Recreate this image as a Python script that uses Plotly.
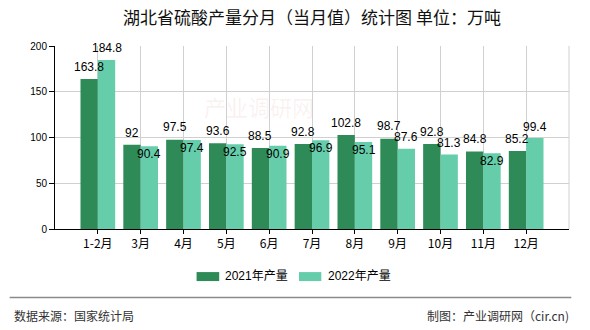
import plotly.graph_objects as go

categories = ["1-2月", "3月", "4月", "5月", "6月", "7月", "8月", "9月", "10月", "11月", "12月"]
values_2021 = [163.8, 92, 97.5, 93.6, 88.5, 92.8, 102.8, 98.7, 92.8, 84.8, 85.2]
values_2022 = [184.8, 90.4, 97.4, 92.5, 90.9, 96.9, 95.1, 87.6, 81.3, 82.9, 99.4]
label_pos_2022 = ["out", "in", "in", "in", "in", "in", "in", "out", "out", "in", "out"]
series_names = ["2021年产量", "2022年产量"]
y_ticks = [0, 50, 100, 150, 200]

title_text = "湖北省硫酸产量分月（当月值）统计图 单位：万吨"
source_text = "数据来源：国家统计局"
maker_text = "制图：产业调研网（cir.cn)"

C1 = "#2E8B57"
C2 = "#66CDAA"

W, H = 590, 330
L, R, T, B = 55.3, 568.7, 46.0, 229.5  # plot area in px


def px(x):
    return (x - L) / (R - L)


def py(y):
    return (B - y) / (B - T)


fig = go.Figure()
fig.add_trace(go.Bar(x=categories, y=values_2021, name=series_names[0],
                     marker=dict(color=C1, line=dict(width=0)), showlegend=False,
                     hoverinfo="x+y"))
fig.add_trace(go.Bar(x=categories, y=values_2022, name=series_names[1],
                     marker=dict(color=C2, line=dict(width=0)), showlegend=False,
                     hoverinfo="x+y"))

label_font = dict(family="Liberation Sans, Arial, sans-serif", size=12, color="#000")
annotations = []
for c, v in zip(categories, values_2021):
    annotations.append(dict(x=c, y=v, xref="x", yref="y", text=f"{v:g}",
                            showarrow=False, xshift=-8.7, yshift=12.3,
                            yanchor="middle", xanchor="center", font=label_font))
for c, v, p in zip(categories, values_2022, label_pos_2022):
    annotations.append(dict(x=c, y=v, xref="x", yref="y", text=f"{v:g}",
                            showarrow=False, xshift=8.7,
                            yshift=(11.5 if p == "out" else -8.0),
                            yanchor="middle", xanchor="center", font=label_font))

cjk = "Noto Sans CJK SC, sans-serif"

# watermark
annotations.append(dict(x=px(259), y=py(106), xref="paper", yref="paper",
                        xanchor="center", yanchor="middle",
                        text="产业调研网", showarrow=False,
                        font=dict(family=cjk, size=22, color="rgba(220,140,140,0.12)")))

# legend (custom)
shapes = []
leg = [(196.7, 219.3, 223.3, C1, series_names[0]), (299.0, 321.3, 326.0, C2, series_names[1])]
for x0, x1, tx, col, name in leg:
    shapes.append(dict(type="rect", xref="paper", yref="paper",
                       x0=px(x0), x1=px(x1), y0=py(281.7), y1=py(272.7),
                       fillcolor=col, line=dict(width=0)))
    annotations.append(dict(x=px(tx), y=py(277), xref="paper", yref="paper",
                            text=name, showarrow=False, xanchor="left", yanchor="middle",
                            font=dict(family="Liberation Sans, " + cjk, size=12, color="#000")))

# right border grid line
shapes.append(dict(type="line", xref="paper", yref="paper", x0=1, x1=1, y0=0, y1=1,
                   line=dict(color="#d0d0d0", width=1)))
# separator line
shapes.append(dict(type="line", xref="paper", yref="paper", x0=px(10), x1=px(571),
                   y0=py(298.3), y1=py(298.3), line=dict(color="#8a8a8a", width=1.5)))

# footer
annotations.append(dict(x=px(12), y=py(316), xref="paper", yref="paper", text=source_text,
                        showarrow=False, xanchor="left", yanchor="middle",
                        font=dict(family=cjk, size=12, color="#333")))
annotations.append(dict(x=px(571), y=py(316), xref="paper", yref="paper", text=maker_text,
                        showarrow=False, xanchor="right", yanchor="middle",
                        font=dict(family=cjk, size=12, color="#333")))

fig.update_layout(
    width=W, height=H,
    margin=dict(l=L, r=W - R, t=T, b=H - B, pad=0),
    paper_bgcolor="white", plot_bgcolor="white",
    barmode="group", bargap=0.19, bargroupgap=0,
    title=dict(text=title_text, x=0.5, xref="paper", xanchor="center",
               y=1 - 18 / H, yref="container", yanchor="middle",
               font=dict(family=cjk, size=17, color="#111")),
    xaxis=dict(type="category", range=[-1, len(categories)],
               showgrid=True, gridcolor="#d0d0d0", gridwidth=1,
               showline=True, linecolor="#000", linewidth=1,
               ticks="outside", ticklen=4, tickcolor="#000",
               tickfont=dict(family=cjk, size=12, color="#000"),
               fixedrange=True),
    yaxis=dict(range=[0, 200], tickvals=y_ticks, ticktext=[str(t) for t in y_ticks],
               showgrid=True, gridcolor="#d0d0d0", gridwidth=1,
               showline=True, linecolor="#000", linewidth=1, zeroline=False,
               ticks="outside", ticklen=5, tickcolor="#000",
               tickfont=dict(family="Liberation Sans, Arial, sans-serif", size=10, color="#000"),
               fixedrange=True),
    annotations=annotations,
    shapes=shapes,
    showlegend=False,
)

fig.write_html("out.html")
